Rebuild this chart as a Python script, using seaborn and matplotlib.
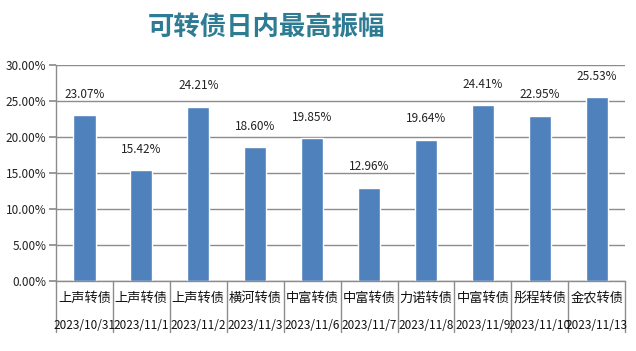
import matplotlib
matplotlib.use("Agg")
import matplotlib.pyplot as plt
import pandas as pd
import seaborn as sns
from matplotlib.lines import Line2D

bonds = ["上声转债", "上声转债", "上声转债", "横河转债", "中富转债",
         "中富转债", "力诺转债", "中富转债", "彤程转债", "金农转债"]
dates = ["2023/10/31", "2023/11/1", "2023/11/2", "2023/11/3", "2023/11/6",
         "2023/11/7", "2023/11/8", "2023/11/9", "2023/11/10", "2023/11/13"]
amplitude = [23.07, 15.42, 24.21, 18.60, 19.85, 12.96, 19.64, 24.41, 22.95, 25.53]
y_ticks = [0, 5, 10, 15, 20, 25, 30]

df = pd.DataFrame({"date": dates, "bond": bonds, "amp": amplitude})

sns.set_theme(style="white")
plt.rcParams["font.family"] = ["Noto Sans CJK SC", "DejaVu Sans"]

fig = plt.figure(figsize=(6.36, 3.51), dpi=100)
ax = fig.add_axes([0.088, 0.199, 0.895, 0.616])

bar_color = "#4F81BD"
sns.barplot(data=df, x="date", y="amp", color=bar_color, width=0.39,
            saturation=1, ax=ax)

ax.set_ylim(0, 30)
ax.set_xlim(-0.5, len(dates) - 0.5)
ax.set_yticks(y_ticks)
ax.set_yticklabels([f"{t:.2f}%" for t in y_ticks], fontsize=8.5, color="#222222")
ax.yaxis.grid(True, color="#8c8c8c", linewidth=1)
ax.set_axisbelow(True)
ax.tick_params(axis="y", left=True, length=5, color="#8c8c8c", pad=2)
ax.set_xticks(range(len(dates)))
ax.set_xticklabels([])
ax.tick_params(axis="x", bottom=False)
ax.set_xlabel("")
ax.set_ylabel("")
for side in ["top", "right"]:
    ax.spines[side].set_visible(False)
for side in ["left", "bottom"]:
    ax.spines[side].set_color("#8c8c8c")
    ax.spines[side].set_linewidth(1)

# value labels
for i, v in enumerate(amplitude):
    ax.annotate(f"{v:.2f}%", (i, v), xytext=(0, 15), textcoords="offset points",
                ha="center", va="center", fontsize=8.5, color="#222222")

# category table below axis
n = len(dates)
for k in range(n + 1):
    xa = k / n
    ax.add_line(Line2D([xa, xa], [0, -0.236], transform=ax.transAxes,
                       color="#8c8c8c", linewidth=1, clip_on=False))
for i in range(n):
    xa = (i + 0.5) / n
    ax.text(xa, -0.08, bonds[i], transform=ax.transAxes, ha="center",
            va="center", fontsize=9.5, color="#111111")
    ax.text(xa, -0.205, dates[i], transform=ax.transAxes, ha="center",
            va="center", fontsize=8.5, color="#111111")

fig.text(266 / 636, 1 - 28 / 351, "可转债日内最高振幅", ha="center", va="center",
         fontsize=19, fontweight="semibold", color="#2E7B94")

fig.savefig("out.png", dpi=100)
